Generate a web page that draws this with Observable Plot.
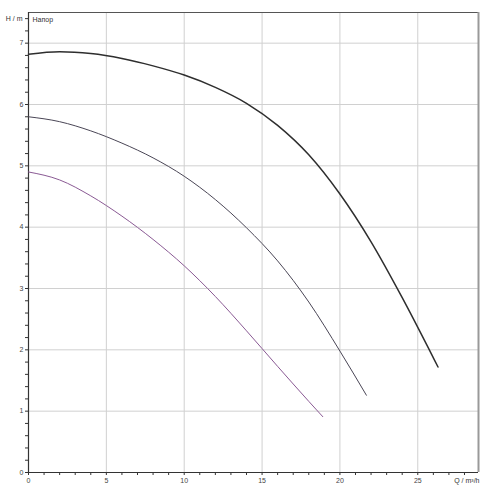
<!DOCTYPE html>
<html>
<head>
<meta charset="utf-8">
<script src="https://cdn.jsdelivr.net/npm/d3@7"></script>
<script src="https://cdn.jsdelivr.net/npm/@observablehq/plot@0.6"></script>
<style>
  html, body { margin: 0; padding: 0; background: #fff; }
  #chart svg { display: block; }
</style>
</head>
<body>
<div id="chart"></div>
<script>
// Curve 1 (top, thick)
const q1 = [0, 2, 4, 6, 8, 10, 12, 14, 16, 18, 20, 22, 24, 26, 26.3];
const h1 = [6.82, 6.86, 6.83, 6.75, 6.63, 6.48, 6.28, 6.02, 5.66, 5.18, 4.54, 3.76, 2.85, 1.87, 1.72];
// Curve 2 (middle)
const q2 = [0, 2, 4, 6, 8, 10, 12, 14, 16, 18, 20, 21.7];
const h2 = [5.80, 5.72, 5.57, 5.37, 5.13, 4.83, 4.45, 3.99, 3.45, 2.78, 1.98, 1.26];
// Curve 3 (bottom, purple)
const q3 = [0, 2, 4, 6, 8, 10, 12, 14, 16, 18, 18.9];
const h3 = [4.90, 4.77, 4.51, 4.18, 3.80, 3.37, 2.87, 2.31, 1.73, 1.16, 0.91];

const xMajor = [0, 5, 10, 15, 20, 25];
const yMajor = [0, 1, 2, 3, 4, 5, 6, 7];
const xMinor = d3.range(0, 29, 1);
const yMinor = d3.range(0, 38).map(i => i / 5);

const yLabel = "H / m";
const headLabel = "Напор";
const xLabel = "Q / m³/h";

const xMax = 28.9, yMax = 7.5;

const toRows = (q, h) => q.map((d, i) => ({q: d, h: h[i]}));

const chart = Plot.plot({
  width: 500,
  height: 500,
  marginLeft: 28,
  marginRight: 22,
  marginTop: 12,
  marginBottom: 28,
  style: {fontFamily: "'Liberation Sans', Arial, sans-serif", fontSize: "7px", color: "#444", background: "#fff"},
  x: {domain: [0, xMax]},
  y: {domain: [0, yMax]},
  marks: [
    Plot.ruleX(xMajor.filter(d => d > 0), {stroke: "#d0d0d0", strokeWidth: 1, strokeOpacity: 1}),
    Plot.ruleY(yMajor.filter(d => d > 0), {stroke: "#d0d0d0", strokeWidth: 1, strokeOpacity: 1}),
    Plot.ruleY([yMax], {stroke: "#555", strokeWidth: 1}),
    Plot.ruleX([xMax], {stroke: "#999", strokeWidth: 2}),
    Plot.axisX({ticks: xMinor, tickSize: 3, tickFormat: d => (d % 5 === 0 ? d : ""), label: null, stroke: "#333", fill: "#444", tickPadding: 3}),
    Plot.axisY({ticks: yMinor, tickSize: 3, tickFormat: d => (Number.isInteger(d) ? d : ""), label: null, stroke: "#333", fill: "#444", tickPadding: 2}),
    Plot.ruleX([0], {stroke: "#333", strokeWidth: 1.2}),
    Plot.ruleY([0], {stroke: "#333", strokeWidth: 1.2}),
    Plot.line(toRows(q3, h3), {x: "q", y: "h", curve: "monotone-x", stroke: "#8a5a94", strokeWidth: 1}),
    Plot.line(toRows(q2, h2), {x: "q", y: "h", curve: "monotone-x", stroke: "#4a4656", strokeWidth: 1}),
    Plot.line(toRows(q1, h1), {x: "q", y: "h", curve: "monotone-x", stroke: "#2e2e2e", strokeWidth: 1.5}),
    Plot.text([yLabel], {frameAnchor: "top-left", text: d => d, dx: -6, dy: 4, textAnchor: "end", fill: "#333", fontSize: 7}),
    Plot.text([headLabel], {frameAnchor: "top-left", text: d => d, dx: 4, dy: 5, textAnchor: "start", fill: "#333", fontSize: 7}),
    Plot.text([xLabel], {frameAnchor: "bottom-right", text: d => d, dx: 1, dy: 10, textAnchor: "end", fill: "#333", fontSize: 7})
  ]
});
document.getElementById("chart").appendChild(chart);
</script>
</body>
</html>
